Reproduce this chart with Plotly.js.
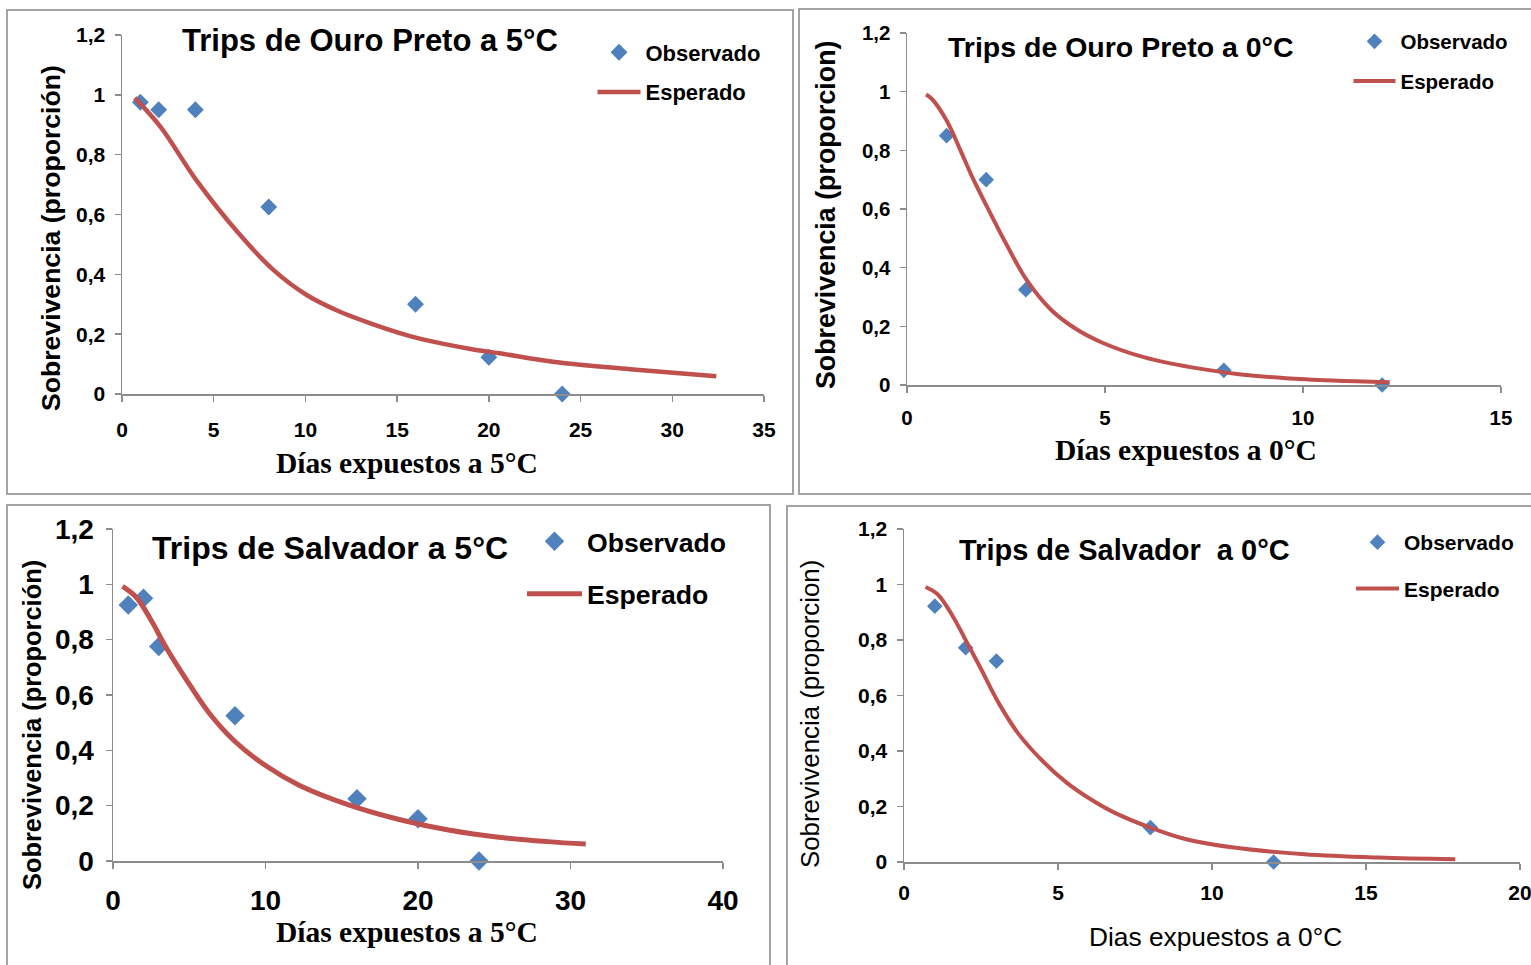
<!DOCTYPE html>
<html><head><meta charset="utf-8">
<script src="https://cdn.plot.ly/plotly-3.0.1.min.js"></script>
<style>html,body{margin:0;padding:0;background:#fff;overflow:hidden;width:1531px;height:965px}#chart{width:1531px;height:965px;overflow:hidden}</style>
</head><body><div id="chart"></div>
<script>
const W = 1531, H = 965;

// ---- data ----
const op5ObsX = [1, 2, 4, 8, 16, 20, 24];
const op5ObsY = [0.975, 0.95, 0.95, 0.625, 0.30, 0.123, 0];
const op5FitX = [0.7, 2.1, 4.05, 6.43, 8.25, 10.07, 11.88, 13.7, 15.52, 17.34, 19.15, 20.6, 23.6, 27.7, 32.4];
const op5FitY = [0.99, 0.893, 0.715, 0.532, 0.415, 0.331, 0.275, 0.233, 0.197, 0.170, 0.149, 0.136, 0.107, 0.083, 0.059];

const op0ObsX = [1, 2, 3, 8, 12];
const op0ObsY = [0.85, 0.70, 0.325, 0.05, 0];
const op0FitX = [0.48, 0.63, 0.99, 1.35, 1.64, 2.06, 2.54, 3.02, 3.61, 4.21, 4.92, 6.0, 7.19, 8.38, 9.57, 10.76, 12.19];
const op0FitY = [0.99, 0.975, 0.904, 0.80, 0.711, 0.597, 0.472, 0.358, 0.26, 0.196, 0.145, 0.094, 0.06, 0.037, 0.023, 0.015, 0.009];

const sv5ObsX = [1, 2, 3, 8, 16, 20, 24];
const sv5ObsY = [0.925, 0.95, 0.775, 0.525, 0.225, 0.153, 0];
const sv5FitX = [0.62, 1.5, 2.5, 3.5, 4.7, 6.3, 8.0, 10.0, 12.2, 15.5, 18.7, 22, 25.3, 28.5, 31];
const sv5FitY = [0.993, 0.955, 0.87, 0.77, 0.665, 0.535, 0.432, 0.345, 0.274, 0.202, 0.151, 0.112, 0.086, 0.07, 0.061];

const sv0ObsX = [1, 2, 3, 8, 12];
const sv0ObsY = [0.922, 0.772, 0.724, 0.124, 0];
const sv0FitX = [0.7, 1.09, 1.55, 2.02, 2.48, 3.1, 3.73, 4.5, 5.28, 6.06, 6.83, 8.0, 9.16, 10.7, 13.0, 15.4, 17.9];
const sv0FitY = [0.991, 0.965, 0.892, 0.796, 0.70, 0.568, 0.46, 0.364, 0.286, 0.226, 0.178, 0.124, 0.082, 0.052, 0.028, 0.016, 0.0096];

const yTickVals = [0, 0.2, 0.4, 0.6, 0.8, 1, 1.2];
const yTickText = ['0', '0,2', '0,4', '0,6', '0,8', '1', '1,2'];
const xTicks35 = [0, 5, 10, 15, 20, 25, 30, 35];
const xTicks15 = [0, 5, 10, 15];
const xTicks40 = [0, 10, 20, 30, 40];
const xTicks20 = [0, 5, 10, 15, 20];

const titles = ['Trips de Ouro Preto a 5°C', 'Trips de Ouro Preto a 0°C', 'Trips de Salvador a 5°C', 'Trips de Salvador  a 0°C'];
const yTitles = ['Sobrevivencia (proporción)', 'Sobrevivencia (proporcion)', 'Sobrevivencia (proporción)', 'Sobrevivencia (proporcion)'];
const xTitles = ['Días expuestos a 5°C', 'Días expuestos a 0°C', 'Días expuestos a 5°C', 'Dias expuestos a 0°C'];
const legendNames = ['Observado', 'Esperado'];

// ---- style ----
const BLUE = '#4F81BD', RED = '#C0504D', AX = '#8c8c8c';
const SANS = '"Liberation Sans", Arial, sans-serif';
const SERIF = '"Liberation Serif", "Times New Roman", serif';
const px = v => v / W, py = v => 1 - v / H;

const panels = [
  {obsX: op5ObsX, obsY: op5ObsY, fitX: op5FitX, fitY: op5FitY, xr: [0, 35], xt: xTicks35,
   xd: [122, 764], yd: [394, 35], ms: 13, lw: 4.5, tick: 21, tsx: 10, tsy: 5,
   title: {x: 370, y: 40, s: 31}, yt: {x: 51, y: 238, s: 26.6, f: SANS, w: 'bold'},
   xtt: {x: 407, y: 463, s: 29.5, f: SERIF, w: 'bold'},
   leg: {x: 592.5, y: 31.5, s: 22, iw: 43, gap: 8}},
  {obsX: op0ObsX, obsY: op0ObsY, fitX: op0FitX, fitY: op0FitY, xr: [0, 15], xt: xTicks15,
   xd: [907, 1501], yd: [385, 33], ms: 12, lw: 4, tick: 20.5, tsx: 8, tsy: 5,
   title: {x: 1121, y: 47, s: 28.5}, yt: {x: 826, y: 215, s: 26.8, f: SANS, w: 'bold'},
   xtt: {x: 1186, y: 450, s: 29.5, f: SERIF, w: 'bold'},
   leg: {x: 1348.5, y: 21.5, s: 20.5, iw: 42, gap: 10}},
  {obsX: sv5ObsX, obsY: sv5ObsY, fitX: sv5FitX, fitY: sv5FitY, xr: [0, 40], xt: xTicks40,
   xd: [113, 723], yd: [861, 529], ms: 15, lw: 5, tick: 28, tsx: 8, tsy: 6,
   title: {x: 330, y: 548, s: 32}, yt: {x: 32, y: 725, s: 25.4, f: SANS, w: 'bold'},
   xtt: {x: 407, y: 932, s: 29.5, f: SERIF, w: 'bold'},
   leg: {x: 522, y: 517.5, s: 26.6, iw: 55, gap: 15}},
  {obsX: sv0ObsX, obsY: sv0ObsY, fitX: sv0FitX, fitY: sv0FitY, xr: [0, 20], xt: xTicks20,
   xd: [904, 1520], yd: [862, 529], ms: 12, lw: 4, tick: 21, tsx: 5, tsy: 5,
   title: {x: 1124, y: 550, s: 29}, yt: {x: 810, y: 714, s: 25.8, f: SANS, w: 'normal'},
   xtt: {x: 1215, y: 937, s: 26.3, f: SANS, w: 'normal'},
   leg: {x: 1351, y: 522, s: 21, iw: 43, gap: 16}}
];

const data = [];
const layout = {
  width: W, height: H, autosize: false, margin: {l: 0, r: 0, t: 0, b: 0, pad: 0},
  paper_bgcolor: '#fff', plot_bgcolor: 'rgba(0,0,0,0)',
  showlegend: true, annotations: [], shapes: []
};

panels.forEach((p, i) => {
  const n = i === 0 ? '' : String(i + 1);
  const xa = 'x' + n, ya = 'y' + n, lg = 'legend' + n;
  data.push({
    type: 'scatter', mode: 'markers', name: legendNames[0], x: p.obsX, y: p.obsY,
    xaxis: xa, yaxis: ya, legend: lg, legendgroup: 'o' + i, cliponaxis: false,
    marker: {symbol: 'diamond', size: p.ms, color: BLUE}
  });
  data.push({
    type: 'scatter', mode: 'lines', name: legendNames[1], x: p.fitX, y: p.fitY,
    xaxis: xa, yaxis: ya, legend: lg, legendgroup: 'e' + i, cliponaxis: false,
    line: {color: RED, width: p.lw, shape: 'spline', smoothing: 1}
  });
  layout['xaxis' + n] = {
    domain: [px(p.xd[0]), px(p.xd[1])], range: p.xr, anchor: ya, fixedrange: true,
    tickmode: 'array', tickvals: p.xt, ticktext: p.xt.map(String),
    showline: true, linecolor: AX, linewidth: 1.5, ticks: 'outside', ticklen: 6,
    tickcolor: AX, tickwidth: 1.5, showgrid: false, zeroline: false,
    ticklabelstandoff: p.tsx, ticklabeloverflow: 'allow',
    tickfont: {family: SANS, size: p.tick, color: '#000', weight: 'bold'}
  };
  layout['yaxis' + n] = {
    domain: [py(p.yd[0]), py(p.yd[1])], range: [0, 1.2], anchor: xa, fixedrange: true,
    tickmode: 'array', tickvals: yTickVals, ticktext: yTickText,
    showline: true, linecolor: AX, linewidth: 1.5, ticks: 'outside', ticklen: 6,
    tickcolor: AX, tickwidth: 1.5, showgrid: false, zeroline: false,
    ticklabelstandoff: p.tsy,
    tickfont: {family: SANS, size: p.tick, color: '#000', weight: 'bold'}
  };
  layout[lg] = {
    x: px(p.leg.x), y: py(p.leg.y), xanchor: 'left', yanchor: 'top',
    bgcolor: 'rgba(0,0,0,0)', borderwidth: 0, itemwidth: p.leg.iw,
    traceorder: 'grouped', tracegroupgap: p.leg.gap, itemclick: false,
    font: {family: SANS, size: p.leg.s, color: '#000', weight: 'bold'}
  };
  layout.annotations.push({
    xref: 'paper', yref: 'paper', x: px(p.title.x), y: py(p.title.y),
    xanchor: 'center', yanchor: 'middle', showarrow: false, text: titles[i],
    font: {family: SANS, size: p.title.s, color: '#000', weight: 'bold'}
  });
  layout.annotations.push({
    xref: 'paper', yref: 'paper', x: px(p.yt.x), y: py(p.yt.y),
    xanchor: 'center', yanchor: 'middle', showarrow: false, textangle: -90, text: yTitles[i],
    font: {family: p.yt.f, size: p.yt.s, color: '#000', weight: p.yt.w}
  });
  layout.annotations.push({
    xref: 'paper', yref: 'paper', x: px(p.xtt.x), y: py(p.xtt.y),
    xanchor: 'center', yanchor: 'middle', showarrow: false, text: xTitles[i],
    font: {family: p.xtt.f, size: p.xtt.s, color: '#000', weight: p.xtt.w}
  });
});

const boxes = [[7, 10, 793, 494], [799, 9, 1540, 494], [7, 505, 770, 975], [787, 506, 1540, 975]];
boxes.forEach(b => layout.shapes.push({
  type: 'rect', xref: 'paper', yref: 'paper', x0: px(b[0]), x1: px(b[2]), y0: py(b[3]), y1: py(b[1]),
  line: {color: '#a3a3a3', width: 2}, fillcolor: 'rgba(0,0,0,0)', layer: 'below'
}));

Plotly.newPlot('chart', data, layout, {displayModeBar: false, staticPlot: true, responsive: false});
</script></body></html>
